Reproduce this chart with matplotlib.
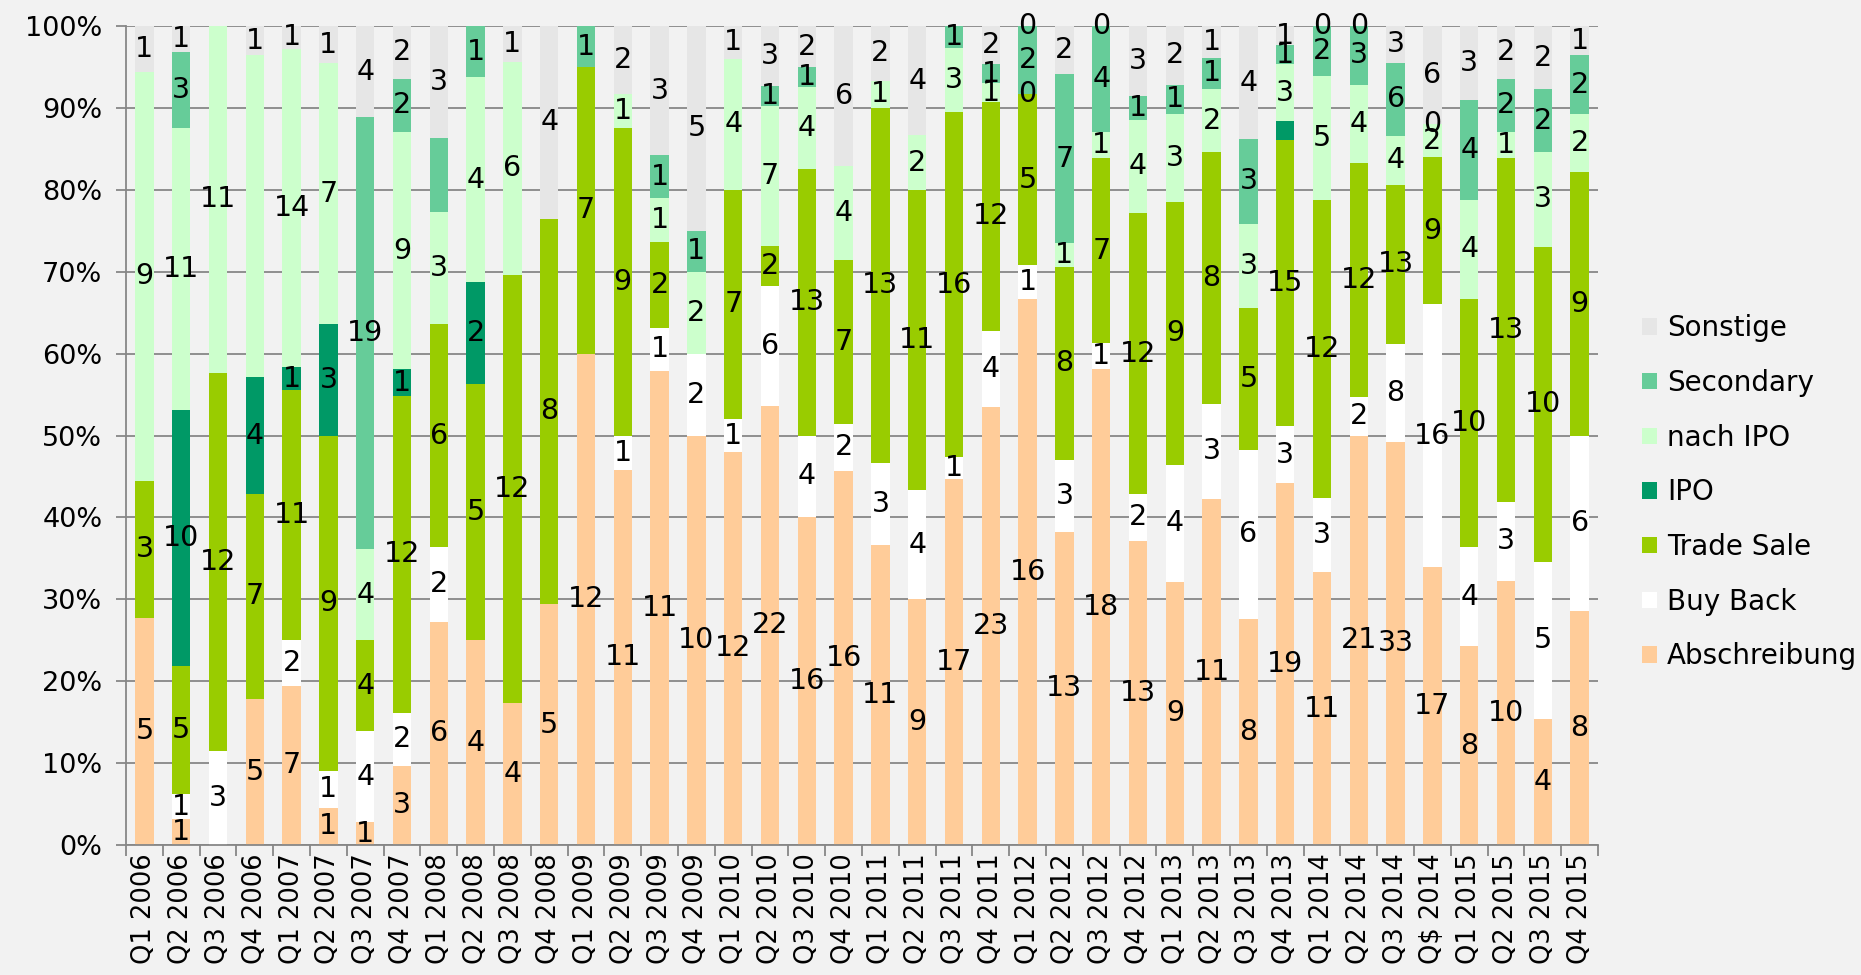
import numpy as np
import matplotlib
matplotlib.use("Agg")
import matplotlib.pyplot as plt
from matplotlib.patches import Patch

nan = np.nan
quarters = ["Q1 2006", "Q2 2006", "Q3 2006", "Q4 2006",
            "Q1 2007", "Q2 2007", "Q3 2007", "Q4 2007",
            "Q1 2008", "Q2 2008", "Q3 2008", "Q4 2008",
            "Q1 2009", "Q2 2009", "Q3 2009", "Q4 2009",
            "Q1 2010", "Q2 2010", "Q3 2010", "Q4 2010",
            "Q1 2011", "Q2 2011", "Q3 2011", "Q4 2011",
            "Q1 2012", "Q2 2012", "Q3 2012", "Q4 2012",
            "Q1 2013", "Q2 2013", "Q3 2013", "Q4 2013",
            "Q1 2014", "Q2 2014", "Q3 2014", "Q$ 2014",
            "Q1 2015", "Q2 2015", "Q3 2015", "Q4 2015"]

abschreibung = [5, 1, nan, 5, 7, 1, 1, 3, 6, 4, 4, 5, 12, 11, 11, 10, 12, 22, 16, 16,
                11, 9, 17, 23, 16, 13, 18, 13, 9, 11, 8, 19, 11, 21, 33, 17, 8, 10, 4, 8]
buy_back = [nan, 1, 3, nan, 2, 1, 4, 2, 2, nan, nan, nan, nan, 1, 1, 2, 1, 6, 4, 2,
            3, 4, 1, 4, 1, 3, 1, 2, 4, 3, 6, 3, 3, 2, 8, 16, 4, 3, 5, 6]
trade_sale = [3, 5, 12, 7, 11, 9, 4, 12, 6, 5, 12, 8, 7, 9, 2, nan, 7, 2, 13, 7,
              13, 11, 16, 12, 5, 8, 7, 12, 9, 8, 5, 15, 12, 12, 13, 9, 10, 13, 10, 9]
ipo = [nan, 10, nan, 4, 1, 3, nan, 1, nan, 2, nan, nan, nan, nan, nan, nan, nan, nan, nan, nan,
       nan, nan, nan, nan, nan, nan, nan, nan, nan, nan, nan, 1, nan, nan, nan, nan, nan, nan, nan, nan]
nach_ipo = [9, 11, 11, 11, 14, 7, 4, 9, 3, 4, 6, nan, nan, 1, 1, 2, 4, 7, 4, 4,
            1, 2, 3, 1, 0, 1, 1, 4, 3, 2, 3, 3, 5, 4, 4, 2, 4, 1, 3, 2]
secondary = [nan, 3, nan, nan, nan, nan, 19, 2, 2, 1, nan, nan, 1, nan, 1, 1, nan, 1, 1, nan,
             nan, nan, 1, 1, 2, 7, 4, 1, 1, 1, 3, 1, 2, 3, 6, 0, 4, 2, 2, 2]
sonstige = [1, 1, nan, 1, 1, 1, 4, 2, 3, nan, 1, 4, nan, 2, 3, 5, 1, 3, 2, 6,
            2, 4, nan, 2, 0, 2, 0, 3, 2, 1, 4, 1, 0, 0, 3, 6, 3, 2, 2, 1]

series_names = ["Abschreibung", "Buy Back", "Trade Sale", "IPO", "nach IPO", "Secondary", "Sonstige"]
series_values = [abschreibung, buy_back, trade_sale, ipo, nach_ipo, secondary, sonstige]
colors = ["#FFCC99", "#FFFFFF", "#99CC00", "#009966", "#CCFFCC", "#66CC99", "#E6E6E6"]
hidden_labels = [("nach IPO", 3), ("Secondary", 8), ("IPO", 31)]

BG = "#F2F2F2"
GRID = "#878787"
plt.rcParams["font.family"] = ["DejaVu Sans"]

fig = plt.figure(figsize=(18.61, 9.75), dpi=100, facecolor=BG)
ax = fig.add_axes([0.0677, 0.1333, 0.8587 - 0.0677, 0.9733 - 0.1333])
ax.set_facecolor(BG)

data = np.array(series_values, dtype=float)
counts = np.nan_to_num(data)
totals = counts.sum(axis=0)
shares = counts / totals

x = np.arange(len(quarters))
bottom = np.zeros(len(quarters))
for name, vals, share, col in zip(series_names, data, shares, colors):
    ax.bar(x, share, width=0.5, bottom=bottom, color=col, edgecolor="none", zorder=2)
    for i in range(len(quarters)):
        if np.isnan(vals[i]) or (name, i) in hidden_labels:
            continue
        ax.text(x[i], bottom[i] + share[i] / 2, f"{int(vals[i])}", ha="center", va="center",
                fontsize=20.5, color="black", zorder=3)
    bottom += share

ax.set_xlim(-0.5, len(quarters) - 0.5)
ax.set_ylim(0, 1)
ax.set_yticks(np.arange(0, 1.01, 0.1))
ax.set_yticklabels([f"{int(round(v * 100))}%" for v in np.arange(0, 1.01, 0.1)], fontsize=19.5)
ax.yaxis.grid(True, color=GRID, linewidth=1.3)
ax.set_axisbelow(True)

ax.set_xticks(x)
ax.set_xticklabels(quarters, rotation=90, fontsize=18.5)
ax.set_xticks(np.arange(-0.5, len(quarters), 1.0), minor=True)
ax.tick_params(axis="x", which="major", length=0, pad=6)
ax.tick_params(axis="x", which="minor", length=8, width=1.3, color=GRID, direction="out")
ax.tick_params(axis="y", length=7, width=1.3, color=GRID, direction="out", pad=10)

for s in ["top", "right"]:
    ax.spines[s].set_visible(False)
for s in ["left", "bottom"]:
    ax.spines[s].set_color(GRID)
    ax.spines[s].set_linewidth(1.3)

handles = [Patch(facecolor=c, edgecolor="none", label=n) for n, c in zip(series_names, colors)][::-1]
fig.legend(handles=handles, loc="center left", bbox_to_anchor=(0.8823, 0.495), frameon=False,
           fontsize=20, handlelength=0.54, handleheight=0.54, handletextpad=0.36,
           labelspacing=0.96, borderpad=0, borderaxespad=0)

fig.savefig("out.png", dpi=100, facecolor=BG)
